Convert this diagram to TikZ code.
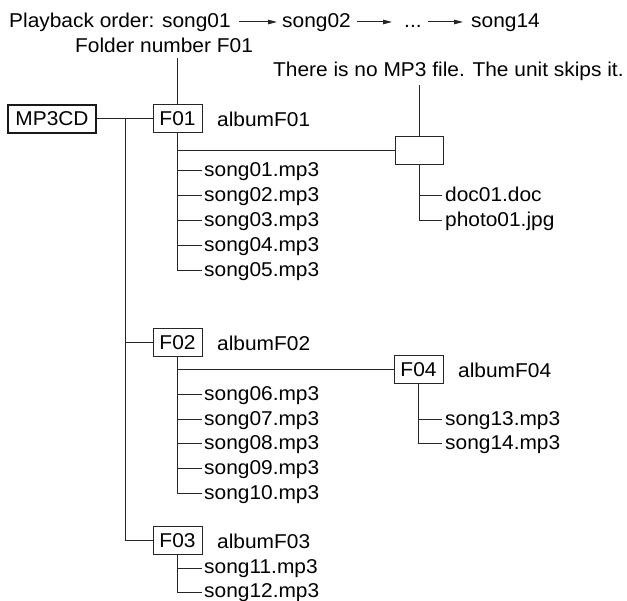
\documentclass[tikz,border=0pt]{standalone}
\usepackage{fontspec}
\setmainfont{Liberation Sans}[FakeStretch=1.045]
\usetikzlibrary{arrows.meta}
\begin{document}
\begin{tikzpicture}[x=1pt,y=-1pt,
  every node/.style={font=\fontsize{20}{24}\selectfont, inner sep=0pt, text=black},
  lbl/.style={anchor=west, text height=15pt, text depth=4pt},
  fbox/.style={draw=black!85, line width=1pt, minimum width=49pt, minimum height=28pt},
  cdbox/.style={draw=black!90, line width=2.4pt, minimum width=88pt, minimum height=28pt},
  ln/.style={draw=black!85, line width=1pt},
  arr/.style={ln, -{Triangle[length=9pt,width=4.5pt]}}
]
\useasboundingbox (0,0) rectangle (627,601);

% title
\node[anchor=base west] (t1) at (9,28) {Playback order: song01};
\node[anchor=base west] (t2) at (282,28) {song02};
\node[anchor=base west] (t3) at (404,28) {...};
\node[anchor=base west] (t4) at (471,28) {song14};
\draw[arr] ([xshift=8pt,yshift=6pt]t1.base east) -- ([xshift=-5pt,yshift=6pt]t2.base west);
\draw[arr] ([xshift=6pt,yshift=6pt]t2.base east) -- ([xshift=-12pt,yshift=6pt]t3.base west);
\draw[arr] ([xshift=6pt,yshift=6pt]t3.base east) -- ([xshift=-8pt,yshift=6pt]t4.base west);

\node[anchor=base west] (fold) at (75,53) {Folder number F01};
\node[anchor=base west] (note) at (273,77) {There is no MP3 file. The unit skips it.};

% boxes
\node[cdbox] (cd) at (52,119) {MP3CD};
\node[fbox] (F01) at (177.5,119) {F01};
\node[anchor=west] (aF01) at (217,119) {albumF01};
\node[fbox, minimum width=48pt] (e1) at (419,151) {};
\node[fbox] (F02) at (177.5,343) {F02};
\node[anchor=west] (aF02) at (217,343) {albumF02};
\node[fbox] (F04) at (418.5,370) {F04};
\node[anchor=west] (aF04) at (458,370) {albumF04};
\node[fbox] (F03) at (177.5,541) {F03};
\node[anchor=west] (aF03) at (217,541) {albumF03};

% files
\node[lbl] (s01) at (204,171) {song01.mp3};
\node[lbl] (s02) at (204,196) {song02.mp3};
\node[lbl] (s03) at (204,221) {song03.mp3};
\node[lbl] (s04) at (204,246) {song04.mp3};
\node[lbl] (s05) at (204,271) {song05.mp3};
\node[lbl] (doc) at (445,196) {doc01.doc};
\node[lbl] (photo) at (445,221) {photo01.jpg};
\node[lbl] (s06) at (204,395) {song06.mp3};
\node[lbl] (s07) at (204,420) {song07.mp3};
\node[lbl] (s08) at (204,444) {song08.mp3};
\node[lbl] (s09) at (204,469) {song09.mp3};
\node[lbl] (s10) at (204,494) {song10.mp3};
\node[lbl] (s13) at (445,420) {song13.mp3};
\node[lbl] (s14) at (445,444) {song14.mp3};
\node[lbl] (s11) at (204,568) {song11.mp3};
\node[lbl] (s12) at (204,592) {song12.mp3};

% connectors
\coordinate (j0) at (125,119);
\draw[ln] (cd.east) -- (F01.west);
\draw[ln] (j0) |- (F03.west);
\draw[ln] (j0 |- F02.west) -- (F02.west);
\draw[ln] (F01.north) -- ([yshift=-5pt]F01.north |- fold.south);
\draw[ln] (e1.north) -- ([yshift=-3.5pt]e1.north |- note.south);

\draw[ln] (F01.south) |- ([xshift=-2pt]s05.west);
\foreach \n in {01,02,03,04} \draw[ln] (F01.south |- s\n.west) -- ([xshift=-2pt]s\n.west);
\draw[ln] (F01.south |- e1.west) -- (e1.west);
\draw[ln] (e1.south) |- ([xshift=-3pt]photo.west);
\draw[ln] (e1.south |- doc.west) -- ([xshift=-3pt]doc.west);

\draw[ln] (F02.south) |- ([xshift=-2pt]s10.west);
\foreach \n in {06,07,08,09} \draw[ln] (F02.south |- s\n.west) -- ([xshift=-2pt]s\n.west);
\draw[ln] (F02.south |- F04.west) -- (F04.west);
\draw[ln] (F04.south) |- ([xshift=-3pt]s14.west);
\draw[ln] (F04.south |- s13.west) -- ([xshift=-3pt]s13.west);

\draw[ln] (F03.south) |- ([xshift=-2pt]s12.west);
\draw[ln] (F03.south |- s11.west) -- ([xshift=-2pt]s11.west);
\end{tikzpicture}
\end{document}
